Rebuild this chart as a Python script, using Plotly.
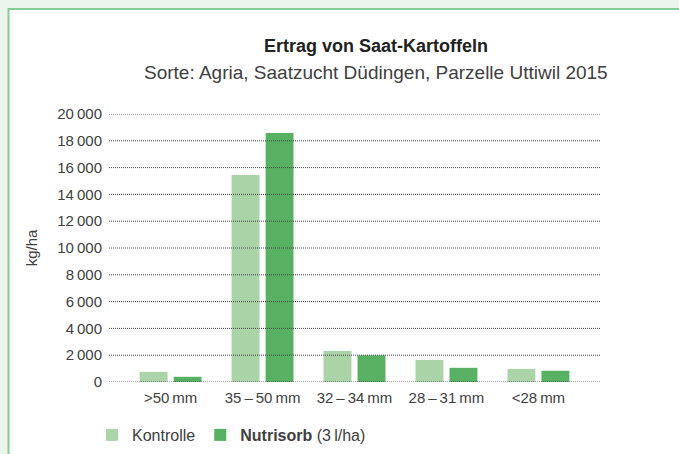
import plotly.graph_objects as go

categories = [">50\u2009mm", "35\u2009\u2013\u200950\u2009mm", "32\u2009\u2013\u200934\u2009mm", "28\u2009\u2013\u200931\u2009mm", "<28\u2009mm"]
kontrolle = [760, 15450, 2320, 1650, 980]
nutrisorb = [390, 18580, 1990, 1060, 840]
y_ticks = [0, 2000, 4000, 6000, 8000, 10000, 12000, 14000, 16000, 18000, 20000]

W, H = 679, 454
ML, MR, MT, MB = 109, 79, 114, 72
PW, PH = W - ML - MR, H - MT - MB

def px_x(p):
    return (p - ML) / PW

def px_y(p):
    return (H - MB - p) / PH

FONT = "Liberation Sans"
TXT = "#404040"

fig = go.Figure()
fig.add_trace(go.Bar(x=categories, y=kontrolle, name="Kontrolle",
                     marker=dict(color="#aad4a8", line=dict(width=0))))
fig.add_trace(go.Bar(x=categories, y=nutrisorb, name="<b>Nutrisorb</b> (3\u2009l/ha)",
                     marker=dict(color="#58b062", line=dict(width=0))))

shapes = []
# panel
shapes.append(dict(type="rect", xref="paper", yref="paper", layer="below",
                   x0=px_x(8.5), x1=px_x(700), y0=px_y(500), y1=px_y(9),
                   fillcolor="white", line=dict(color="#86cc96", width=2)))
# dotted gridlines above bars
for v in y_ticks:
    shapes.append(dict(type="line", xref="paper", yref="y", layer="above",
                       x0=0, x1=1, y0=v, y1=v,
                       line=dict(color="#444444", width=1, dash="1px,1px")))

fig.update_layout(
    width=W, height=H,
    margin=dict(l=ML, r=MR, t=MT, b=MB),
    paper_bgcolor="#eaf5ec",
    plot_bgcolor="rgba(0,0,0,0)",
    barmode="group", bargap=0.26, bargroupgap=0.18,
    separators=".\u2009",
    font=dict(family=FONT, color=TXT, size=15),
    shapes=shapes,
    showlegend=True,
    legend=dict(orientation="h", xref="container", yref="container",
                x=92 / W, y=1 - 435 / H, xanchor="left", yanchor="middle",
                font=dict(size=16, family=FONT, color=TXT),
                bgcolor="rgba(0,0,0,0)", traceorder="normal"),
    xaxis=dict(range=[-0.67, 4.67], showgrid=False, zeroline=False, showline=False,
               ticks="", tickfont=dict(size=15), fixedrange=True, automargin=False,
               ticklabelstandoff=5),
    yaxis=dict(range=[0, 20000], tickvals=y_ticks, tickformat=",d",
               showgrid=False, zeroline=False, showline=False, ticks="",
               ticklabelstandoff=6, tickfont=dict(size=15), automargin=False,
               title=dict(text="kg/ha", font=dict(size=15), standoff=16),
               fixedrange=True),
    annotations=[
        dict(text="<b>Ertrag von Saat-Kartoffeln</b>", xref="paper", yref="paper",
             x=px_x(376), y=px_y(46), xanchor="center", yanchor="middle",
             showarrow=False, font=dict(size=18, family=FONT, color="#222222")),
        dict(text="Sorte: Agria, Saatzucht Düdingen, Parzelle Uttiwil 2015", xref="paper", yref="paper",
             x=px_x(376), y=px_y(73), xanchor="center", yanchor="middle",
             showarrow=False, font=dict(size=19, family=FONT, color=TXT)),
    ],
)

fig.write_html(
    "out.html",
    config={"displayModeBar": False},
    post_script="document.body.style.margin='0';document.body.style.background='#eaf5ec';",
)
